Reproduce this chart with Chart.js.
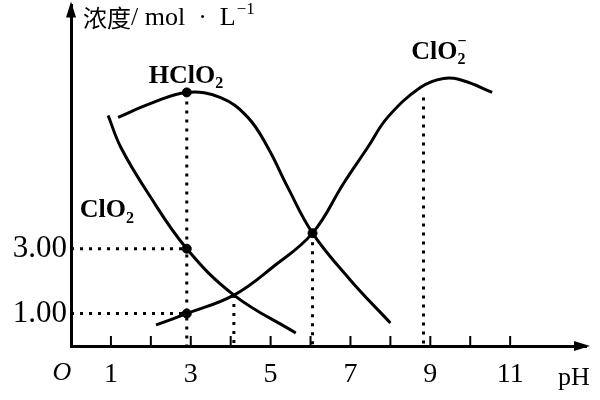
<!DOCTYPE html>
<html>
<head>
<meta charset="utf-8">
<script src="https://cdn.jsdelivr.net/npm/chart.js@4.4.1/dist/chart.umd.min.js"></script>
<style>
html, body { margin: 0; padding: 0; background: #fff; }
</style>
</head>
<body>
<canvas id="myChart" width="600" height="400"></canvas>
<script>
// curves (pH, concentration)
const hclo2PH   = [1.18, 2.0, 2.9, 3.75, 4.43, 4.93, 5.43, 6.05, 7.0, 8.0];
const hclo2Conc = [7.05, 7.48, 7.82, 7.66, 7.05, 6.12, 4.89, 3.48, 2.03, 0.71];
const clo2PH    = [0.93, 1.25, 1.93, 2.9, 4.08, 5.63];
const clo2Conc  = [7.11, 6.12, 4.71, 3.0, 1.57, 0.40];
const clo2mPH   = [2.13, 2.9, 4.08, 5.05, 6.05, 6.83, 7.43, 7.93, 8.75, 9.33, 9.83, 10.55];
const clo2mConc = [0.65, 1.0, 1.57, 2.43, 3.48, 5.02, 6.12, 7.05, 7.97, 8.25, 8.18, 7.82];
// marked points
const dotPH   = [2.9, 2.9, 2.9, 6.05];
const dotConc = [7.82, 3.0, 1.0, 3.48];
// dotted guide lines: [x1, y1, x2, y2]
const guides = [
    [0, 3.0, 2.9, 3.0],
    [0, 1.0, 2.9, 1.0],
    [2.9, 7.82, 2.9, 0],
    [4.08, 1.57, 4.08, 0],
    [6.05, 3.48, 6.05, 0],
    [8.83, 7.66, 8.83, 0]
];
const xTickValues = [0, 1, 2, 3, 4, 5, 6, 7, 8, 9, 10, 11];
const xTickLabels = ['', '1', '', '3', '', '5', '', '7', '', '9', '', '11'];
const yTickValues = [1, 3];
const yTickLabels = ['1.00', '3.00'];

const serif = '"Liberation Serif", "DejaVu Serif", serif';

function toPoints(xs, ys) {
    return xs.map((x, i) => ({ x: x, y: ys[i] }));
}

function curve(xs, ys) {
    return {
        data: toPoints(xs, ys),
        borderColor: '#000',
        borderWidth: 3,
        pointRadius: 0,
        tension: 0.4,
        fill: false
    };
}

let datasets = [curve(hclo2PH, hclo2Conc), curve(clo2PH, clo2Conc), curve(clo2mPH, clo2mConc)];
guides.forEach(g => {
    datasets.push({
        data: [{ x: g[0], y: g[1] }, { x: g[2], y: g[3] }],
        borderColor: '#000',
        borderWidth: 3,
        borderDash: [3, 6],
        pointRadius: 0,
        fill: false
    });
});
datasets.push({
    type: 'scatter',
    data: toPoints(dotPH, dotConc),
    backgroundColor: '#000',
    borderColor: '#000',
    pointRadius: 4.5
});

// draws a formula like HClO2 with sub/superscripts, centred on x
function drawFormula(ctx, parts, x, y, size) {
    const fonts = { n: 'bold ' + size + 'px ' + serif, s: 'bold ' + Math.round(size * 0.62) + 'px ' + serif };
    let total = 0;
    parts.forEach(p => {
        ctx.font = p[1] === 'n' ? fonts.n : fonts.s;
        p.w = ctx.measureText(p[0]).width;
        if (p[1] !== 'sup') total += p.w;
    });
    let cx = x - total / 2;
    let lastSubX = cx;
    ctx.textBaseline = 'alphabetic';
    ctx.textAlign = 'left';
    parts.forEach(p => {
        if (p[1] === 'n') {
            ctx.font = fonts.n;
            ctx.fillText(p[0], cx, y);
            cx += p.w;
        } else if (p[1] === 'sub') {
            ctx.font = fonts.s;
            lastSubX = cx;
            ctx.fillText(p[0], cx, y + size * 0.22);
            cx += p.w;
        } else {
            ctx.font = fonts.s;
            ctx.fillText(p[0], lastSubX, y - size * 0.5);
        }
    });
}

const decor = {
    id: 'decor',
    afterDraw(chart) {
        const ctx = chart.ctx;
        const xs = chart.scales.x, ys = chart.scales.y;
        const x0 = xs.getPixelForValue(0), y0 = ys.getPixelForValue(0);
        const top = chart.chartArea.top, right = chart.chartArea.right;
        ctx.save();
        ctx.fillStyle = '#000';
        ctx.strokeStyle = '#000';
        // arrow heads
        ctx.beginPath();
        ctx.moveTo(x0, top - 4);
        ctx.lineTo(x0 - 5, top + 12);
        ctx.lineTo(x0 + 5, top + 12);
        ctx.closePath();
        ctx.fill();
        ctx.beginPath();
        ctx.moveTo(right + 4, y0);
        ctx.lineTo(right - 12, y0 - 5);
        ctx.lineTo(right - 12, y0 + 5);
        ctx.closePath();
        ctx.fill();
        // small ticks pointing up from the pH axis
        ctx.lineWidth = 2;
        xTickValues.forEach(v => {
            if (v === 0) return;
            const px = xs.getPixelForValue(v);
            ctx.beginPath();
            ctx.moveTo(px, y0);
            ctx.lineTo(px, y0 - 10);
            ctx.stroke();
        });
        // axis texts
        ctx.textBaseline = 'middle';
        ctx.textAlign = 'left';
        ctx.font = '24px "Noto Sans CJK SC"';
        ctx.fillText('浓度', x0 + 12, top + 12);
        let tx = x0 + 12 + ctx.measureText('浓度').width;
        ctx.font = '26px ' + serif;
        ctx.fillText('/ mol  ·  L', tx, top + 13);
        tx += ctx.measureText('/ mol  ·  L').width + 1;
        ctx.font = '17px ' + serif;
        ctx.fillText('−1', tx, top + 4);
        ctx.font = 'italic 26px ' + serif;
        ctx.textAlign = 'center';
        ctx.fillText('O', x0 - 9, y0 + 27);
        ctx.font = '26px ' + serif;
        ctx.fillText('pH', right - 12, y0 + 32);
        // curve names
        drawFormula(ctx, [['HClO', 'n'], ['2', 'sub']], xs.getPixelForValue(2.88), ys.getPixelForValue(8.12), 26);
        drawFormula(ctx, [['ClO', 'n'], ['2', 'sub']], xs.getPixelForValue(0.9), ys.getPixelForValue(3.97), 26);
        drawFormula(ctx, [['ClO', 'n'], ['2', 'sub'], ['−', 'sup']], xs.getPixelForValue(9.2), ys.getPixelForValue(8.86), 26);
        ctx.restore();
    }
};

const ctx = document.getElementById('myChart').getContext('2d');
const myChart = new Chart(ctx, {
    type: 'line',
    data: { datasets: datasets },
    options: {
        responsive: false,
        animation: false,
        layout: {
            padding: { top: 5, right: 14, left: 0, bottom: 0 }
        },
        plugins: {
            legend: { display: false },
            tooltip: { enabled: false }
        },
        scales: {
            x: {
                type: 'linear',
                min: 0,
                max: 12.9,
                grid: { drawOnChartArea: false, drawTicks: false },
                border: { color: '#000', width: 3 },
                afterBuildTicks: s => { s.ticks = xTickValues.map(v => ({ value: v })); },
                afterFit: s => { s.height = 54; s.paddingLeft = 0; s.paddingRight = 0; },
                ticks: {
                    autoSkip: false,
                    maxRotation: 0,
                    padding: 12,
                    color: '#000',
                    font: { family: serif, size: 28 },
                    callback: (v, i) => xTickLabels[i]
                }
            },
            y: {
                type: 'linear',
                min: 0,
                max: 10.5,
                grid: { drawOnChartArea: false, drawTicks: false },
                border: { color: '#000', width: 3 },
                afterBuildTicks: s => { s.ticks = yTickValues.map(v => ({ value: v })); },
                afterFit: s => { s.width = 71; s.paddingTop = 0; s.paddingBottom = 0; },
                ticks: {
                    padding: 4,
                    color: '#000',
                    font: { family: serif, size: 31 },
                    callback: (v, i) => yTickLabels[i]
                }
            }
        }
    },
    plugins: [decor]
});
</script>
</body>
</html>
